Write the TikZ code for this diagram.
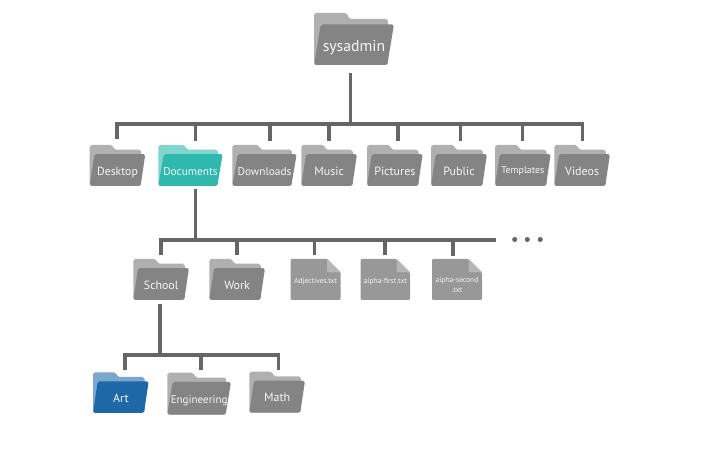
\documentclass[tikz,border=0pt]{standalone}
\usepackage{fontspec}
\setmainfont{PT Sans}
\definecolor{bkgrey}{HTML}{B0B0B0}
\definecolor{frgrey}{HTML}{848484}
\definecolor{bkteal}{HTML}{82D5CD}
\definecolor{frteal}{HTML}{2EB8AE}
\definecolor{bkblue}{HTML}{7AA7CE}
\definecolor{frblue}{HTML}{1F68A8}
\definecolor{filebody}{HTML}{989898}
\definecolor{filefold}{HTML}{B6B6B6}
\definecolor{fileshade}{HTML}{8A8A8A}
\definecolor{linegrey}{HTML}{666666}
\definecolor{labelc}{HTML}{F6F6F6}
\tikzset{
  conn/.style={draw=linegrey,line width=2.3pt,line cap=rect},
  connplain/.style={draw=linegrey,line width=2.3pt},
  lab/.style={text=labelc,inner sep=0pt,align=center},
  dotmark/.style={circle,fill=linegrey,inner sep=0pt,minimum size=3.8pt}
}
% #1 name, #2 x0, #3 x1, #4 y0, #5 y1, #6 back colour, #7 front colour, #8 font size, #9 label
\newcommand{\folderdraw}[9]{%
  \pgfmathsetmacro{\fw}{#3-#2}\pgfmathsetmacro{\fh}{#5-#4}%
  \fill[#6,rounded corners=1.4pt] (#2,#5) -- (#2,#4) -- ({#2+.41*\fw},#4) -- ({#2+.44*\fw},{#4+.115*\fh}) -- ({#2+.925*\fw},{#4+.115*\fh}) -- ({#2+.925*\fw},#5) -- cycle;
  \fill[#7,rounded corners=1.4pt] (#2,#5) -- ({#2+.085*\fw},{#4+.22*\fh}) -- (#3,{#4+.22*\fh}) -- ({#2+.915*\fw},#5) -- cycle;
  \node[lab,anchor=base,font=\fontsize{#8}{#8}\selectfont] (#1) at ({#2+.5*\fw},{#4+.735*\fh}) {#9};%
}
% #1 name, #2 x0, #3 x1, #4 y0, #5 y1, #6 font size, #7 label
\newcommand{\filedraw}[7]{%
  \fill[filebody,rounded corners=.8pt] (#2,#4) -- ({#3-13.5},#4) -- (#3,{#4+13.5}) -- (#3,#5) -- (#2,#5) -- cycle;
  \fill[fileshade] ({#3-13.5},{#4+6}) -- ({#3-13.5},{#4+13.5}) -- ({#3-3},{#4+13.5}) -- cycle;
  \fill[filefold] ({#3-13.5},#4) -- (#3,{#4+13.5}) -- ({#3-13.5},{#4+13.5}) -- cycle;
  \node[lab,anchor=north,font=\fontsize{#6}{7.5}\selectfont] (#1) at ({.5*(#2+#3)},{#4+18.5}) {#7};%
}
\begin{document}
\begin{tikzpicture}[x=.75pt,y=-.75pt]
\useasboundingbox (0,0) rectangle (708,449);
\folderdraw{sysadmin}{314}{394}{13}{65}{bkgrey}{frgrey}{11.8}{sysadmin}
\folderdraw{desktop}{89.7}{145.3}{145}{186}{bkgrey}{frgrey}{8.8}{Desktop}
\folderdraw{documents}{158.3}{222.7}{145}{186}{bkteal}{frteal}{8.5}{Documents}
\folderdraw{downloads}{232.3}{296.7}{145}{186}{bkgrey}{frgrey}{8.5}{Downloads}
\folderdraw{music}{301.3}{357}{145}{186}{bkgrey}{frgrey}{9}{Music}
\folderdraw{pictures}{367}{422.7}{145}{186}{bkgrey}{frgrey}{9}{Pictures}
\folderdraw{public}{431}{487}{145}{186}{bkgrey}{frgrey}{9}{Public}
\folderdraw{templates}{495}{550.7}{145}{186}{bkgrey}{frgrey}{7.4}{\raisebox{1pt}{Templates}}
\folderdraw{videos}{554.3}{610}{145}{186}{bkgrey}{frgrey}{9}{Videos}
\folderdraw{school}{133.3}{189}{259}{300}{bkgrey}{frgrey}{8.9}{School}
\folderdraw{work}{209.3}{265}{259}{300}{bkgrey}{frgrey}{9}{Work}
\filedraw{adjectives}{290.7}{340.7}{259}{300}{5.6}{Adjectives.txt}
\filedraw{alphafirst}{360.7}{410}{259}{300}{5.6}{alpha-first.txt}
\filedraw{alphasecond}{432}{482}{259}{300}{5.6}{alpha-second\\.txt}
\folderdraw{art}{93}{148.7}{372.3}{413}{bkblue}{frblue}{9}{Art}
\folderdraw{engineering}{167.3}{231}{372.7}{414.7}{bkgrey}{frgrey}{8.3}{Engineering}
\folderdraw{math}{249.3}{305}{371.7}{412.7}{bkgrey}{frgrey}{9}{Math}
\node[dotmark] (dota) at (514.7,239.5) {};
\node[dotmark] (dotb) at (527.3,239.5) {};
\node[dotmark] (dotc) at (540.3,239.5) {};
% connector ends
\coordinate (sysadmin-b) at (350.3,73);
\coordinate (bus1) at (350.3,124);
\coordinate (desktop-t) at (117,139.5);
\coordinate (documents-t) at (195.7,141);
\coordinate (downloads-t) at (270,141);
\coordinate (music-t) at (329,141);
\coordinate (pictures-t) at (398,141);
\coordinate (public-t) at (460.7,141);
\coordinate (templates-t) at (522.3,141);
\coordinate (videos-t) at (582.7,141);
\coordinate (documents-b) at (195.7,189.5);
\coordinate (bus2) at (195.7,240);
\coordinate (bus2end) at (494.3,240);
\coordinate (school-t) at (161,255.5);
\coordinate (work-t) at (237,255.5);
\coordinate (adjectives-t) at (314.3,255.5);
\coordinate (alphafirst-t) at (385,255.5);
\coordinate (alphasecond-t) at (453,256);
\coordinate (school-b) at (160,304);
\coordinate (bus3) at (160,355);
\coordinate (art-t) at (125,370.5);
\coordinate (engineering-t) at (201,370.5);
\coordinate (math-t) at (278.3,370.5);
% level 1
\draw[connplain] (sysadmin-b) -- (bus1);
\draw[conn] (desktop-t |- bus1) -- (videos-t |- bus1);
\foreach \n in {desktop,documents,downloads,music,pictures,public,templates,videos}
  \draw[connplain] (\n-t |- bus1) -- (\n-t);
% level 2
\draw[connplain] (documents-b) -- (bus2);
\draw[conn] (school-t |- bus2) -- (bus2end);
\foreach \n in {school,work,adjectives,alphafirst,alphasecond}
  \draw[connplain] (\n-t |- bus2) -- (\n-t);
% level 3
\draw[connplain] (school-b) -- (bus3);
\draw[conn] (art-t |- bus3) -- (math-t |- bus3);
\foreach \n in {art,engineering,math}
  \draw[connplain] (\n-t |- bus3) -- (\n-t);
\end{tikzpicture}
\end{document}
